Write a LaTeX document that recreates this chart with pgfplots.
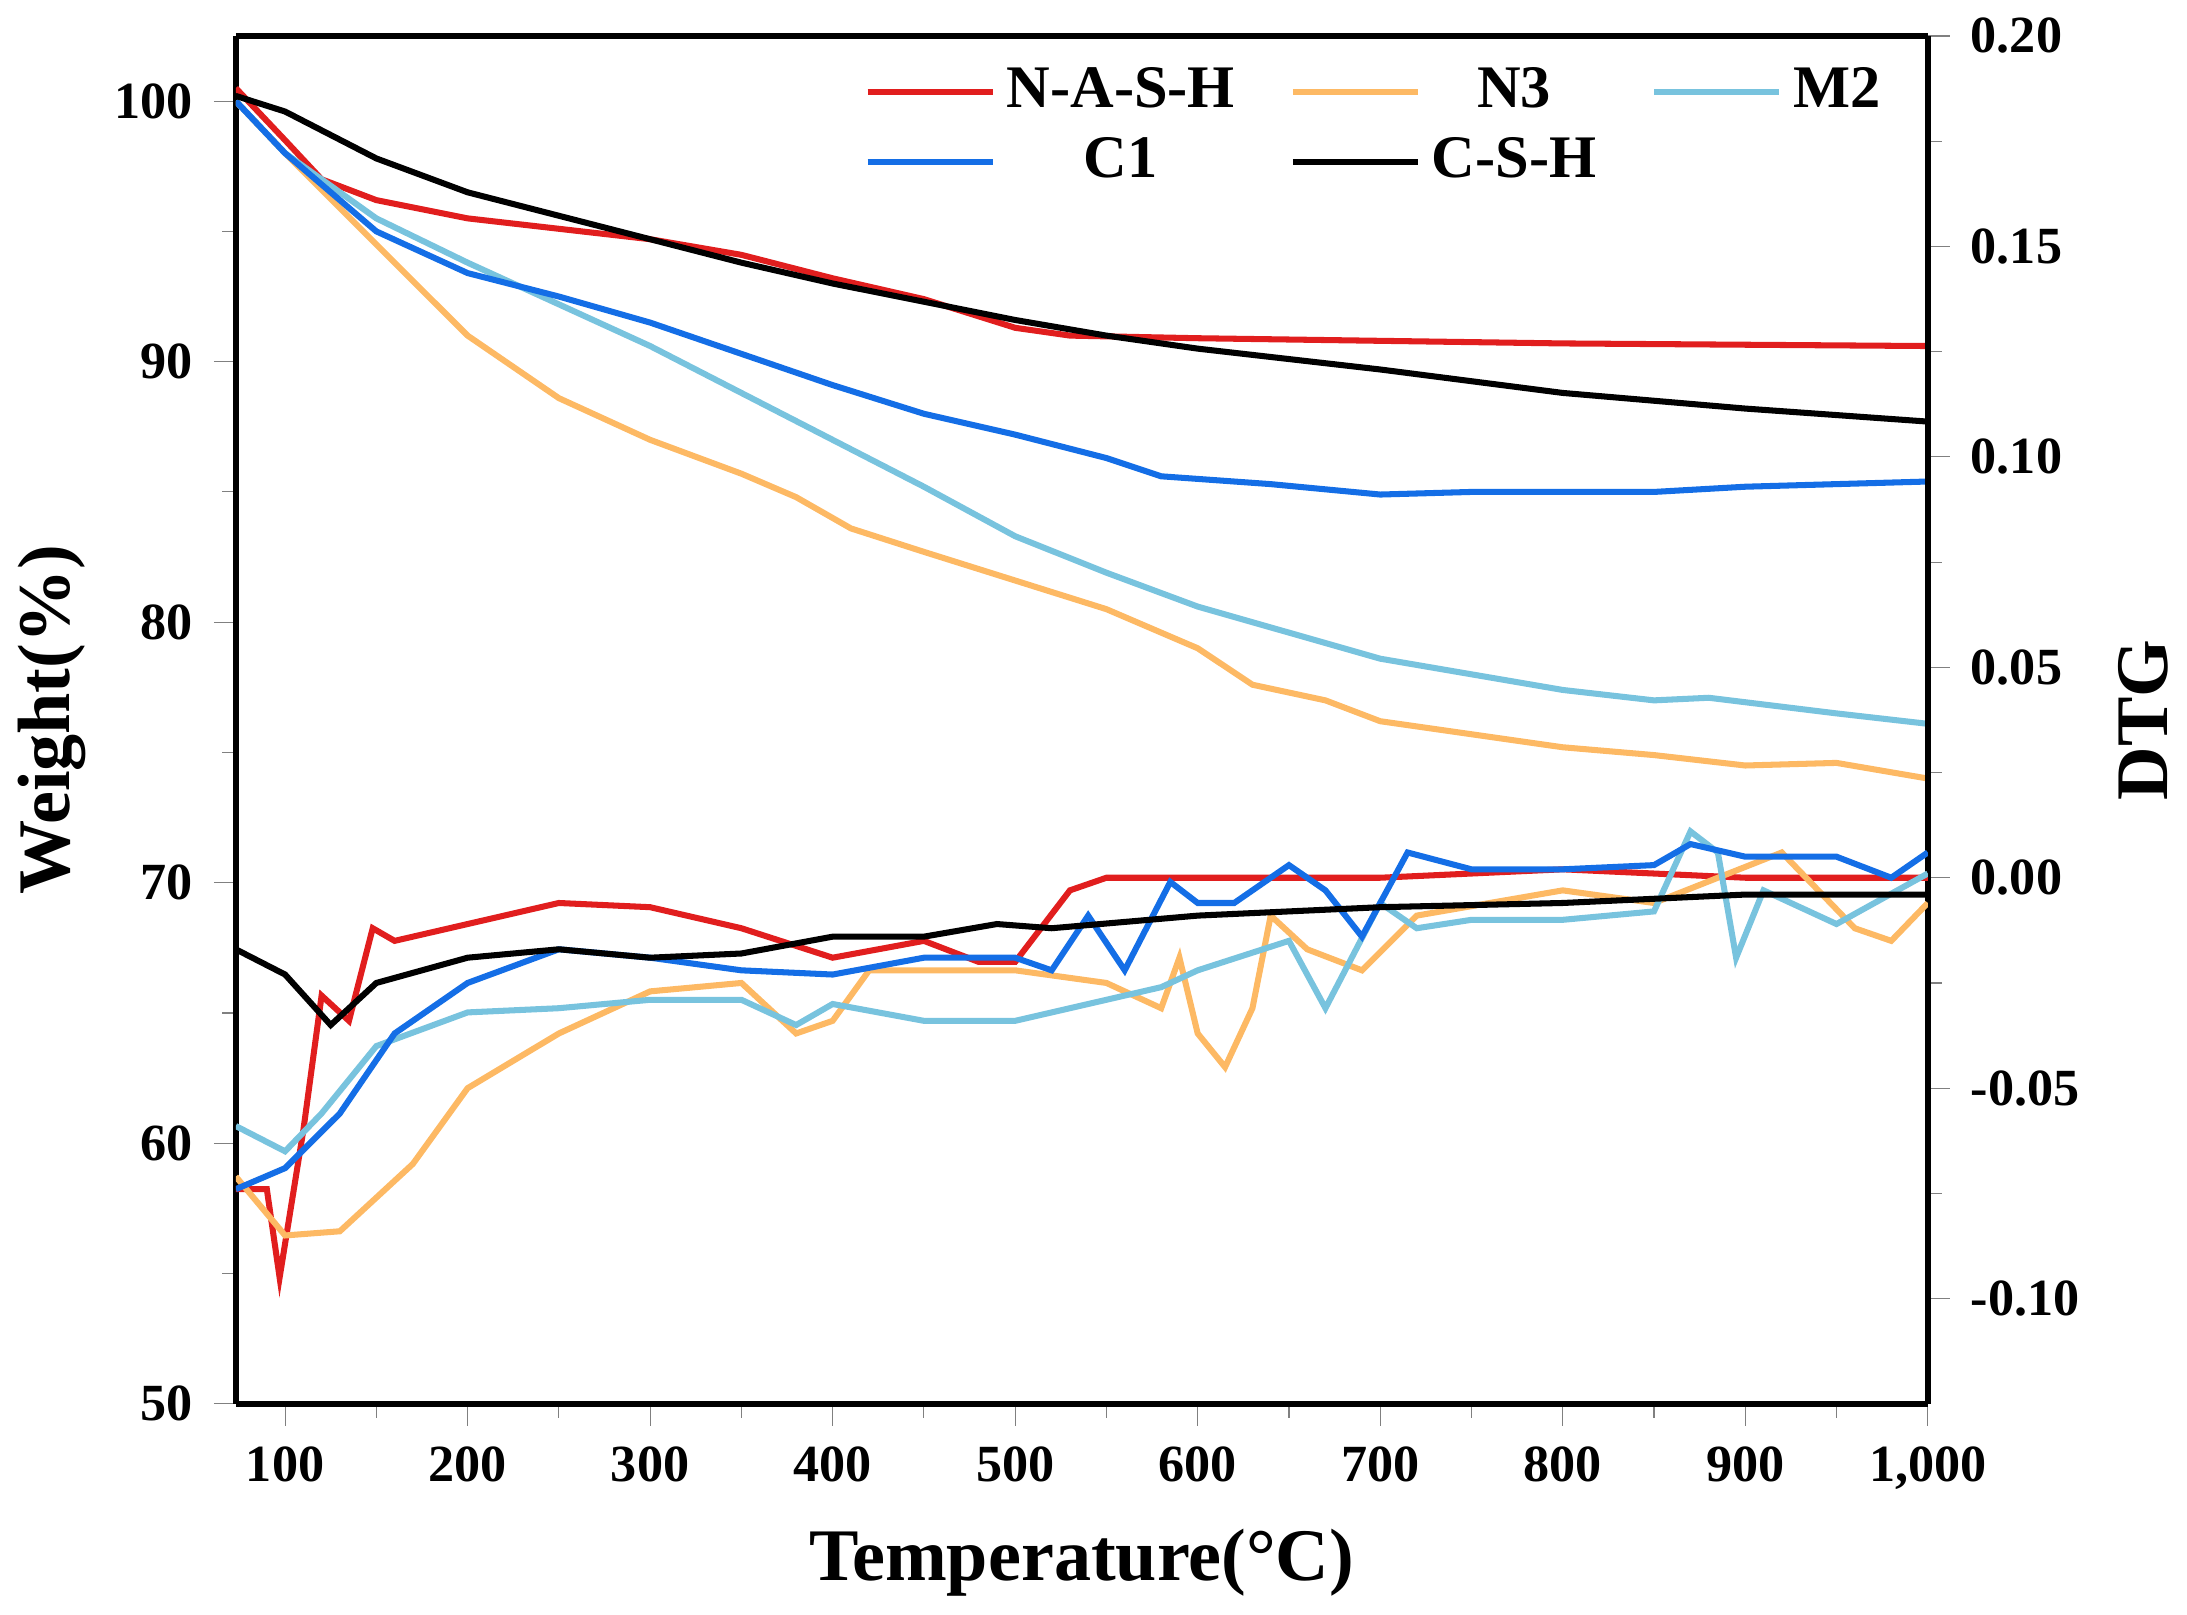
\documentclass[border=0pt]{standalone}
\usepackage{pgfplots}
\pgfplotsset{compat=1.18}
\usepackage{fontspec}
\setmainfont{Liberation Serif}
\definecolor{cred}{RGB}{225,30,30}
\definecolor{corange}{RGB}{253,185,100}
\definecolor{clblue}{RGB}{120,195,222}
\definecolor{cblue}{RGB}{20,110,230}
\begin{document}
\begin{tikzpicture}
\pgfplotsset{every axis/.append style={scale only axis,width=308pt,height=249pt,
 xmin=73,xmax=1000,line width=1pt,tick align=outside,
 tick label style={font=\bfseries\fontsize{9.5}{11}\selectfont},
 /pgf/number format/assume math mode=true,
 major tick length=4pt,minor tick length=2.5pt}}
\begin{axis}[axis y line*=left, axis x line*=bottom,
 ymin=50,ymax=102.5,ytick={50,60,...,100},minor ytick={55,65,...,95},
 xtick={100,200,...,1000},minor xtick={150,250,...,950},
 xlabel={\bfseries\fontsize{13.5}{15}\selectfont Temperature(°C)},
 ylabel={\bfseries\fontsize{13.5}{15}\selectfont Weight(\%)},
 ylabel style={yshift=-2pt},
 legend style={draw=none,fill=none,at={(0.99,0.995)},anchor=north east,
  font=\bfseries\fontsize{11}{12}\selectfont,legend columns=3,
  /tikz/every even column/.append style={column sep=8pt}},
 legend image post style={line width=1.1pt},
 legend image code/.code={\draw[#1] (0cm,0cm) -- (0.8cm,0cm);},
 every axis plot/.append style={line width=1.1pt}]
\addplot[cred] coordinates {(73,100.5)(100,98.5)(120,97)(150,96.2)(200,95.5)(250,95.1)(300,94.7)(350,94.1)(400,93.2)(450,92.4)(500,91.3)(530,91)(600,90.9)(700,90.8)(800,90.7)(1000,90.6)};
\addlegendentry{N-A-S-H}
\addplot[corange] coordinates {(73,100)(100,98)(150,94.5)(200,91)(250,88.6)(300,87)(350,85.7)(380,84.8)(410,83.6)(450,82.7)(500,81.6)(550,80.5)(600,79)(630,77.6)(670,77)(700,76.2)(750,75.7)(800,75.2)(850,74.9)(900,74.5)(950,74.6)(1000,74)};
\addlegendentry{N3}
\addplot[clblue] coordinates {(73,100)(100,98)(150,95.5)(200,93.8)(250,92.2)(300,90.6)(350,88.8)(400,87)(450,85.2)(500,83.3)(550,81.9)(600,80.6)(650,79.6)(700,78.6)(750,78)(800,77.4)(850,77)(880,77.1)(950,76.5)(1000,76.1)};
\addlegendentry{M2}
\addplot[cblue] coordinates {(73,100)(100,98)(150,95)(200,93.4)(250,92.5)(300,91.5)(350,90.3)(400,89.1)(450,88)(500,87.2)(550,86.3)(580,85.6)(640,85.3)(700,84.9)(750,85)(850,85)(900,85.2)(1000,85.4)};
\addlegendentry{C1}
\addplot[black] coordinates {(73,100.2)(100,99.6)(150,97.8)(200,96.5)(250,95.6)(300,94.7)(350,93.8)(400,93)(450,92.3)(500,91.6)(550,91)(600,90.5)(700,89.7)(800,88.8)(900,88.2)(1000,87.7)};
\addlegendentry{C-S-H}
\end{axis}
\begin{axis}[axis y line*=right, axis x line*=top, xtick=\empty,xticklabels={},
 ymin=-0.125,ymax=0.2,ytick={-0.1,-0.05,0,0.05,0.1,0.15,0.2},
 minor ytick={-0.075,-0.025,0.025,0.075,0.125,0.175},
 yticklabel style={/pgf/number format/.cd,fixed,fixed zerofill,precision=2},
 ylabel={\bfseries\fontsize{13.5}{15}\selectfont DTG},
 every axis plot/.append style={line width=1.1pt}]
\addplot[cred] coordinates {(73,-0.074)(90,-0.074)(97,-0.095)(110,-0.06)(120,-0.028)(135,-0.034)(148,-0.012)(160,-0.015)(200,-0.011)(250,-0.006)(300,-0.007)(350,-0.012)(400,-0.019)(450,-0.015)(480,-0.02)(500,-0.02)(530,-0.003)(550,0)(600,0)(700,0)(800,0.002)(900,0)(1000,0)};
\addplot[corange] coordinates {(73,-0.071)(100,-0.085)(130,-0.084)(170,-0.068)(200,-0.05)(250,-0.037)(300,-0.027)(350,-0.025)(380,-0.037)(400,-0.034)(420,-0.022)(500,-0.022)(550,-0.025)(580,-0.031)(590,-0.019)(600,-0.037)(615,-0.045)(630,-0.031)(640,-0.009)(660,-0.017)(690,-0.022)(720,-0.009)(800,-0.003)(850,-0.006)(920,0.006)(960,-0.012)(980,-0.015)(1000,-0.006)};
\addplot[clblue] coordinates {(73,-0.059)(100,-0.065)(120,-0.056)(150,-0.04)(200,-0.032)(250,-0.031)(300,-0.029)(350,-0.029)(380,-0.035)(400,-0.03)(450,-0.034)(500,-0.034)(550,-0.029)(580,-0.026)(600,-0.022)(650,-0.015)(670,-0.031)(700,-0.006)(720,-0.012)(750,-0.01)(800,-0.01)(850,-0.008)(870,0.011)(885,0.006)(895,-0.019)(910,-0.003)(950,-0.011)(1000,0.001)};
\addplot[cblue] coordinates {(73,-0.074)(100,-0.069)(130,-0.056)(160,-0.037)(200,-0.025)(250,-0.017)(300,-0.019)(350,-0.022)(400,-0.023)(450,-0.019)(500,-0.019)(520,-0.022)(540,-0.009)(560,-0.022)(585,-0.001)(600,-0.006)(620,-0.006)(650,0.003)(670,-0.003)(690,-0.014)(715,0.006)(750,0.002)(800,0.002)(850,0.003)(870,0.008)(900,0.005)(950,0.005)(980,0)(1000,0.006)};
\addplot[black] coordinates {(73,-0.017)(100,-0.023)(125,-0.035)(150,-0.025)(200,-0.019)(250,-0.017)(300,-0.019)(350,-0.018)(400,-0.014)(450,-0.014)(490,-0.011)(520,-0.012)(600,-0.009)(700,-0.007)(800,-0.006)(900,-0.004)(1000,-0.004)};
\end{axis}
\end{tikzpicture}
\end{document}
